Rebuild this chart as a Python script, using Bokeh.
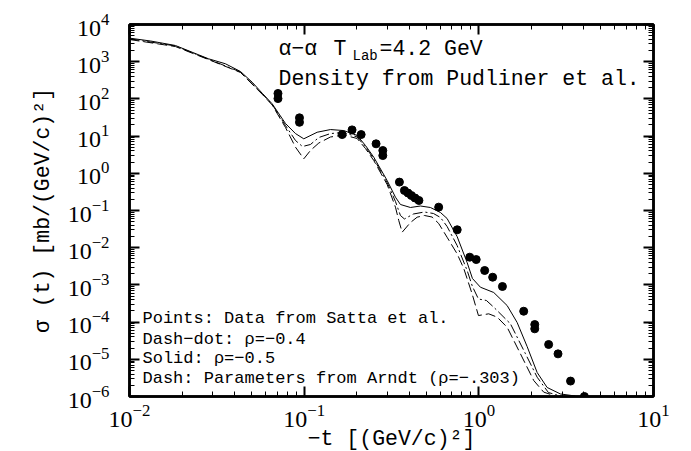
from bokeh.plotting import figure
from bokeh.models import LogAxis, FixedTicker, Label, Range1d
from bokeh.embed import file_html
from bokeh.resources import INLINE

# ---- data ----
data_t = [0.0708, 0.0708, 0.094, 0.094, 0.165, 0.188, 0.212, 0.258, 0.282, 0.282,
          0.351, 0.375, 0.393, 0.411, 0.431, 0.454, 0.589, 0.752, 0.887, 0.966,
          1.08, 1.20, 1.365, 1.807, 2.09, 2.09, 2.51, 2.84, 3.35, 4.02]
data_sigma = [140, 102, 31, 23.5, 11, 14.7, 11, 6.2, 4.1, 3.0,
              0.58, 0.345, 0.295, 0.253, 0.217, 0.186, 0.123, 0.0303, 0.00556, 0.0048,
              0.00244, 0.00161, 9.06e-4, 1.96e-4, 8.6e-5, 6.6e-5, 2.5e-5, 1.4e-5, 2.6e-6, 1.0e-6]

solid_t = [0.01, 0.0132, 0.0183, 0.0283, 0.0354, 0.0432, 0.0504, 0.0577, 0.0656, 0.0782,
           0.0892, 0.0995, 0.1187, 0.1415, 0.1685, 0.2011, 0.2244, 0.2503, 0.2986, 0.3332,
           0.3557, 0.406, 0.4631, 0.528, 0.603, 0.658, 0.751, 0.857, 0.919, 1.021,
           1.217, 1.452, 1.657, 1.89, 2.157, 2.46, 2.931, 3.57]
solid_sigma = [4300, 3600, 2730, 1200, 880, 545, 281, 140, 73.8, 21.8,
               11.7, 8.46, 12.7, 15.0, 14.1, 10.4, 5.59, 2.71, 0.64, 0.228,
               0.145, 0.1205, 0.132, 0.1205, 0.0883, 0.061, 0.02, 0.004, 0.00149, 8.67e-4,
               6.25e-4, 2.79e-4, 9.75e-5, 2.21e-5, 4.42e-6, 1.75e-6, 1.17e-6, 1.03e-6]

dashdot_t = [0.01, 0.0183, 0.0283, 0.0432, 0.0577, 0.0656, 0.0782, 0.0892, 0.0978, 0.1086,
             0.1213, 0.1415, 0.1685, 0.2011, 0.2244, 0.2503, 0.2986, 0.3332, 0.3557, 0.375,
             0.422, 0.488, 0.550, 0.603, 0.658, 0.751, 0.857, 0.919, 0.995, 1.105,
             1.217, 1.517, 1.849, 2.157, 2.502, 2.931]
dashdot_sigma = [4150, 2650, 1170, 530, 135, 71, 19.3, 7.62, 5.25, 5.94,
                 9.17, 11.7, 12.5, 9.46, 5.09, 2.45, 0.566, 0.1746, 0.0734, 0.0592,
                 0.0805, 0.0912, 0.083, 0.0649, 0.0372, 0.01146, 0.00244, 9.06e-4, 4.18e-4, 3.81e-4,
                 2.52e-4, 8.99e-5, 1.41e-5, 3.30e-6, 1.28e-6, 1.03e-6]

dash_t = [0.01, 0.0183, 0.0283, 0.0432, 0.0577, 0.0656, 0.0782, 0.0892, 0.0995, 0.1086,
          0.1213, 0.1415, 0.1685, 0.2011, 0.2244, 0.2503, 0.2986, 0.3332, 0.348, 0.364,
          0.406, 0.4434, 0.488, 0.540, 0.589, 0.658, 0.751, 0.820, 0.915, 0.995,
          1.139, 1.273, 1.452, 1.730, 2.062, 2.352, 2.745]
dash_sigma = [3950, 2560, 1145, 513, 131, 68.5, 17.0, 5.04, 2.45, 4.10,
              6.52, 9.46, 10.7, 8.62, 4.64, 2.21, 0.50, 0.1228, 0.0538, 0.0261,
              0.0476, 0.0661, 0.0734, 0.0668, 0.0448, 0.0191, 0.00686, 0.00276, 5.77e-4, 1.50e-4,
              1.67e-4, 1.36e-4, 7.29e-5, 1.41e-5, 2.69e-6, 1.31e-6, 1.03e-6]

x_major = [1e-2, 1e-1, 1e0, 1e1]
y_major = [1e-6, 1e-5, 1e-4, 1e-3, 1e-2, 1e-1, 1e0, 1e1, 1e2, 1e3, 1e4]


def minors(majors):
    out = []
    for m in majors[:-1]:
        out += [m * k for k in range(2, 10)]
    return out


MONO = "Liberation Mono"
SERIF = "Liberation Serif"

p = figure(frame_width=524, frame_height=372, x_axis_type="log", y_axis_type="log",
           x_range=Range1d(1e-2, 1e1), y_range=Range1d(1e-6, 1e4),
           output_backend="svg", toolbar_location=None,
           min_border_left=129, min_border_right=38, min_border_top=24, min_border_bottom=55,
           background_fill_color="white", border_fill_color="white")
p.xgrid.visible = False
p.ygrid.visible = False
p.outline_line_color = "black"
p.outline_line_width = 2.5

p.add_layout(LogAxis(), "right")
p.add_layout(LogAxis(), "above")


def style_axis(ax, majors, show_labels):
    ax.ticker = FixedTicker(ticks=majors, minor_ticks=minors(majors))
    ax.axis_line_color = "black"
    ax.axis_line_width = 2.5
    ax.major_tick_in = 10
    ax.major_tick_out = 0
    ax.minor_tick_in = 5
    ax.minor_tick_out = 0
    ax.major_tick_line_width = 2
    ax.minor_tick_line_width = 1
    ax.major_tick_line_color = "black"
    ax.minor_tick_line_color = "black"
    if show_labels:
        ax.major_label_text_font = SERIF
        ax.major_label_text_font_size = "24px"
        ax.major_label_text_color = "black"
        ax.axis_label_text_font = MONO
        ax.axis_label_text_font_size = "21.5px"
        ax.axis_label_text_font_style = "normal"
        ax.axis_label_text_color = "black"
    else:
        ax.major_label_text_font_size = "2px"
        ax.major_label_text_color = None
        ax.major_label_standoff = 0


style_axis(p.below[0], x_major, True)
style_axis(p.left[0], y_major, True)
style_axis(p.right[0], y_major, False)
style_axis(p.above[0], x_major, False)

p.below[0].axis_label = "\u2212t [(GeV/c)\u00b2]"
p.below[0].major_label_standoff = 8
p.below[0].axis_label_standoff = -3
p.left[0].axis_label = "\u03c3 (t) [mb/(GeV/c)\u00b2]"
p.left[0].major_label_standoff = 20
p.left[0].axis_label_standoff = 10

# ---- curves and points ----
p.line(solid_t, solid_sigma, line_color="black", line_width=1)
p.line(dashdot_t, dashdot_sigma, line_color="black", line_width=1, line_dash="10 3 2 3")
p.line(dash_t, dash_sigma, line_color="black", line_width=1, line_dash="10 4")
p.scatter(data_t, data_sigma, size=8, color="black")

# ---- texts ----
title_x = 0.0713


def lab(text, x, y, size, xo=0, yo=0):
    p.add_layout(Label(x=x, y=y, text=text, x_offset=xo, y_offset=yo,
                       text_font=MONO, text_font_size=size, text_color="black",
                       text_baseline="alphabetic", text_align="left"))


lab("\u03b1\u2212\u03b1", title_x, 2260, "21.5px")
lab("T", title_x, 2260, "21.5px", xo=55)
lab("Lab", title_x, 2260, "14px", xo=74, yo=-7)
lab("=4.2 GeV", title_x, 2260, "21.5px", xo=101)
lab("Density from Pudliner et al.", title_x, 337, "21.5px")

legend_x = 0.01187
lab("Points: Data from Satta et al.", legend_x, 1.22e-4, "17px")
lab("Dash\u2212dot: \u03c1=\u22120.4", legend_x, 3.47e-5, "17px")
lab("Solid: \u03c1=\u22120.5", legend_x, 1.07e-5, "17px")
lab("Dash: Parameters from Arndt (\u03c1=\u2212.303)", legend_x, 3.1e-6, "17px")

open("out.html", "w").write(file_html(p, INLINE))
